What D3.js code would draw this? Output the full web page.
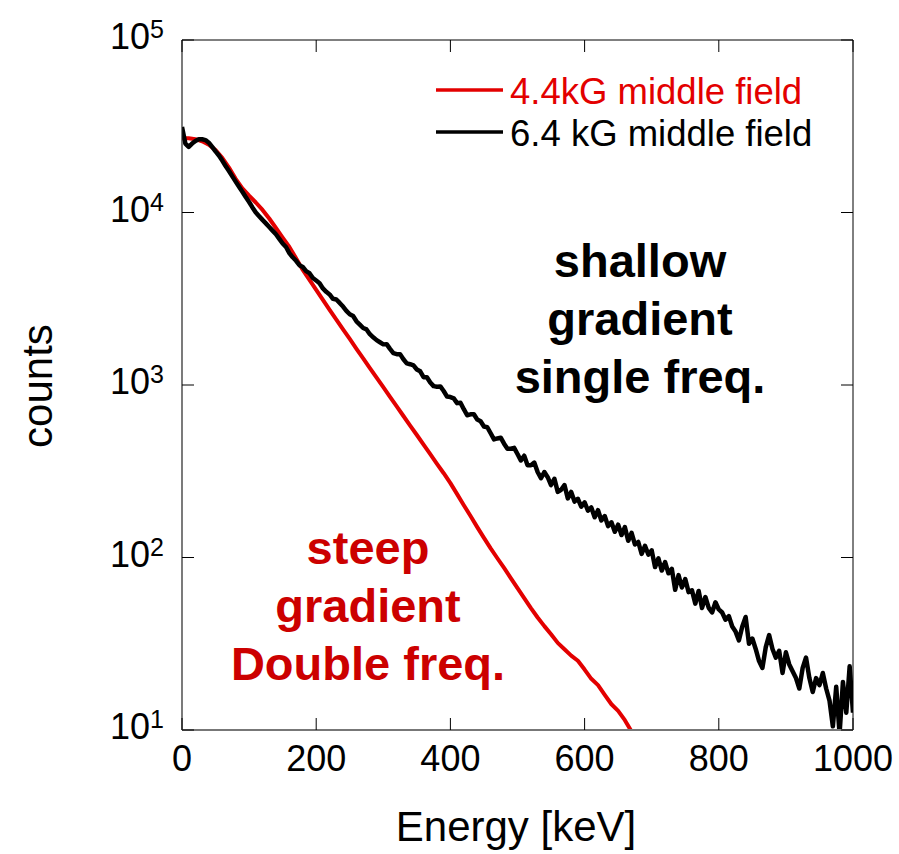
<!DOCTYPE html>
<html>
<head>
<meta charset="utf-8">
<script src="https://cdn.jsdelivr.net/npm/d3@7"></script>
<style>
  body { margin: 0; background: #fff; }
  svg { display: block; font-family: "Liberation Sans", Arial, sans-serif; }
</style>
</head>
<body>
<div id="chart"></div>
<script>
// data

const redEnergy = [0, 10, 20, 30, 40, 50, 60, 70, 80, 90, 100, 110, 120, 130, 140, 150, 160, 170,
  180, 190, 200, 210, 220, 230, 240, 250, 260, 270, 280, 290, 300, 310, 320, 330, 340, 350,
  360, 370, 380, 390, 400, 410, 420, 430, 440, 450, 460, 470, 480, 490, 500, 510, 520, 530,
  540, 550, 560, 570, 580, 590, 600, 610, 620, 630, 640, 650, 660, 670];
const redCounts = [26980, 26920, 26600, 25880, 24720, 23010, 20750, 18200, 15670, 13800, 12530,
  11430, 10350, 9230, 8130, 7160, 6310, 5430, 4645, 4064, 3556, 3112, 2723, 2393, 2104, 1849,
  1622, 1426, 1253, 1102, 971, 853, 752, 661, 582, 513, 451, 397, 349, 308, 270, 233, 201, 174,
  150, 130, 113, 99, 87, 76, 66.5, 58.2, 50.9, 44.9, 40.0, 35.9, 32.0, 29.4, 27.0, 25.2, 22.4,
  19.8, 18.2, 16.0, 14.1, 12.9, 11.4, 9.8];

const blackEnergy = [0, 5, 10, 15, 20, 25, 30, 35, 40, 45, 50, 55, 60, 65, 70, 75, 80, 85, 90, 95,
  100, 105, 110, 115, 120, 125, 130, 135, 140, 145, 150, 155, 160, 165, 170, 175, 180, 185, 190, 195,
  200, 205, 210, 215, 220, 225, 230, 235, 240, 245, 250, 255, 260, 265, 270, 275, 280, 285, 290, 295,
  300, 305, 310, 315, 320, 325, 330, 335, 340, 345, 350, 355, 360, 365, 370, 375, 380, 385, 390, 395,
  400, 405, 410, 415, 420, 425, 430, 435, 440, 445, 450, 455, 460, 465, 470, 475, 480, 485, 490, 495,
  500, 505, 510, 515, 520, 525, 530, 535, 540, 545, 550, 555, 560, 565, 570, 575, 580, 585, 590, 595,
  600, 605, 610, 615, 620, 625, 630, 635, 640, 645, 650, 655, 660, 665, 670, 675, 680, 685, 690, 695,
  700, 705, 710, 715, 720, 725, 730, 735, 740, 745, 750, 755, 760, 765, 770, 775, 780, 785, 790, 795,
  800, 805, 810, 815, 820, 825, 830, 835, 840, 845, 850, 855, 860, 865, 870, 875, 880, 885, 890, 895,
  900, 905, 910, 915, 920, 925, 930, 935, 940, 945, 950, 955, 960, 965, 970, 975, 980, 985, 990, 995,
  1000];
const blackCounts = [31300, 25100, 24000, 25100, 26000, 26600, 26600, 26300, 25400, 24000,
  22600, 21400, 20000, 18600, 17400, 16200, 15100, 14100, 13200, 12300,
  11500, 10700, 10000, 9510, 9060, 8650, 8240, 7850, 7480, 7030,
  6610, 6310, 5820, 5500, 5250, 4950, 4830, 4570, 4450, 4170,
  4030, 3890, 3630, 3470, 3350, 3160, 3130, 2990, 2850, 2690,
  2570, 2510, 2340, 2240, 2140, 2100, 1970, 1890, 1820, 1770,
  1720, 1725, 1620, 1530, 1510, 1510, 1410, 1335, 1320, 1300,
  1230, 1200, 1110, 1110, 1035, 985, 977, 981, 923, 857,
  851, 836, 785, 790, 724, 668, 676, 676, 631, 617,
  575, 569, 525, 484, 490, 495, 457, 427, 427, 432,
  398, 365, 389, 343, 343, 355, 313, 288, 313, 292,
  263, 286, 240, 247, 263, 220, 240, 211, 219, 197,
  209, 187, 195, 171, 188, 164, 174, 152, 160, 141,
  155, 135, 150, 125, 139, 119, 123, 105, 117, 104,
  110, 88, 99, 84, 94, 81, 86, 65, 79, 67,
  75, 63, 64.5, 54, 64, 51, 59, 51, 48, 55,
  50, 48, 43.6, 45.7, 39.8, 37.2, 33.1, 39.8, 45.2, 31.6,
  33.9, 29.5, 25.1, 22.9, 30.2, 35.5, 29.5, 26.3, 28.8, 21.4,
  28.2, 24, 21.9, 20, 17.4, 22.9, 26.3, 20, 16.6, 20,
  18.2, 21.4, 17.4, 14.8, 10.5, 17.8, 9.5, 19, 12.6, 23.4,
  12.6];

const xTicks = [0, 200, 400, 600, 800, 1000];
const yTicks = [10, 100, 1000, 10000, 100000];
const seriesNames = ["4.4kG middle field", "6.4 kG middle field"];
const redNote = ["steep", "gradient", "Double freq."];
const blackNote = ["shallow", "gradient", "single freq."];

const red = "#e30000";
const darkRed = "#cc0000";

const W = 899, H = 854;
const plot = { left: 182, right: 853, top: 40, bottom: 730 };

const svg = d3.select("#chart")
  .append("svg")
  .attr("width", W)
  .attr("height", H);

const x = d3.scaleLinear()
  .domain([0, 1000])
  .range([plot.left, plot.right]);

const y = d3.scaleLog()
  .domain([10, 100000])
  .range([plot.bottom, plot.top]);

// clip for the curves
svg.append("clipPath")
  .attr("id", "clip")
  .append("rect")
  .attr("x", plot.left)
  .attr("y", plot.top)
  .attr("width", plot.right - plot.left)
  .attr("height", plot.bottom - plot.top);

const line = d3.line()
  .x(d => x(d[0]))
  .y(d => y(d[1]));

const redData = redEnergy.map((e, i) => [e, redCounts[i]]);
const blackData = blackEnergy.map((e, i) => [e, blackCounts[i]]);

const curves = svg.append("g").attr("clip-path", "url(#clip)");

curves.append("path")
  .datum(redData)
  .attr("fill", "none")
  .attr("stroke", red)
  .attr("stroke-width", 4)
  .attr("stroke-linejoin", "round")
  .attr("d", line);

curves.append("path")
  .datum(blackData)
  .attr("fill", "none")
  .attr("stroke", "#000")
  .attr("stroke-width", 4.5)
  .attr("stroke-linejoin", "round")
  .attr("d", line);

// frame
svg.append("line")
  .attr("x1", plot.left).attr("x2", plot.right)
  .attr("y1", plot.top).attr("y2", plot.top)
  .attr("stroke", "#000").attr("stroke-width", 1);
svg.append("line")
  .attr("x1", plot.right).attr("x2", plot.right)
  .attr("y1", plot.top).attr("y2", plot.bottom)
  .attr("stroke", "#000").attr("stroke-width", 1);
svg.append("line")
  .attr("x1", plot.left).attr("x2", plot.left)
  .attr("y1", plot.top).attr("y2", plot.bottom)
  .attr("stroke", "#222").attr("stroke-width", 1.2);
svg.append("line")
  .attr("x1", plot.left).attr("x2", plot.right)
  .attr("y1", plot.bottom).attr("y2", plot.bottom)
  .attr("stroke", "#777").attr("stroke-width", 2);

// inward ticks
const tickLen = 12;

svg.selectAll(".xtick")
  .data(xTicks)
  .join("line")
  .attr("x1", d => x(d)).attr("x2", d => x(d))
  .attr("y1", plot.bottom).attr("y2", plot.bottom - tickLen)
  .attr("stroke", "#000").attr("stroke-width", 1);

svg.selectAll(".xtickTop")
  .data(xTicks)
  .join("line")
  .attr("x1", d => x(d)).attr("x2", d => x(d))
  .attr("y1", plot.top).attr("y2", plot.top + tickLen)
  .attr("stroke", "#000").attr("stroke-width", 1);

svg.selectAll(".ytick")
  .data(yTicks)
  .join("line")
  .attr("x1", plot.left).attr("x2", plot.left + tickLen)
  .attr("y1", d => y(d)).attr("y2", d => y(d))
  .attr("stroke", "#000").attr("stroke-width", 1);

svg.selectAll(".ytickRight")
  .data(yTicks)
  .join("line")
  .attr("x1", plot.right).attr("x2", plot.right - tickLen)
  .attr("y1", d => y(d)).attr("y2", d => y(d))
  .attr("stroke", "#000").attr("stroke-width", 1);

// tick labels
svg.selectAll(".xlabel")
  .data(xTicks)
  .join("text")
  .attr("x", d => x(d))
  .attr("y", 771)
  .attr("text-anchor", "middle")
  .style("font-size", "36px")
  .text(d => d);

const yLab = svg.selectAll(".ylabel")
  .data(yTicks)
  .join("text")
  .attr("x", 164)
  .attr("y", d => y(d) + 9)
  .attr("text-anchor", "end")
  .style("font-size", "36px");

yLab.append("tspan").text("10");
yLab.append("tspan")
  .attr("dy", -11)
  .style("font-size", "25px")
  .text(d => Math.round(Math.log10(d)));

// axis titles
svg.append("text")
  .attr("transform", `translate(52,386) rotate(-90)`)
  .attr("text-anchor", "middle")
  .style("font-size", "42px")
  .text("counts");

svg.append("text")
  .attr("x", 516)
  .attr("y", 841)
  .attr("text-anchor", "middle")
  .style("font-size", "42px")
  .text("Energy [keV]");

// legend
const legendColors = [red, "#000"];
const legendY = [90, 132];

seriesNames.forEach((name, i) => {
  svg.append("line")
    .attr("x1", 436).attr("x2", 503)
    .attr("y1", legendY[i]).attr("y2", legendY[i])
    .attr("stroke", legendColors[i])
    .attr("stroke-width", 3.5);
  svg.append("text")
    .attr("x", 510)
    .attr("y", legendY[i] + 14)
    .style("font-size", "36.5px")
    .attr("fill", legendColors[i])
    .text(name);
});

// annotations
svg.selectAll(".blackNote")
  .data(blackNote)
  .join("text")
  .attr("x", 640)
  .attr("y", (d, i) => 277 + i * 58)
  .attr("text-anchor", "middle")
  .style("font-size", "47px")
  .style("font-weight", "bold")
  .attr("fill", "#000")
  .text(d => d);

svg.selectAll(".redNote")
  .data(redNote)
  .join("text")
  .attr("x", 368)
  .attr("y", (d, i) => 564 + i * 58)
  .attr("text-anchor", "middle")
  .style("font-size", "47px")
  .style("font-weight", "bold")
  .attr("fill", darkRed)
  .text(d => d);
</script>
</body>
</html>
